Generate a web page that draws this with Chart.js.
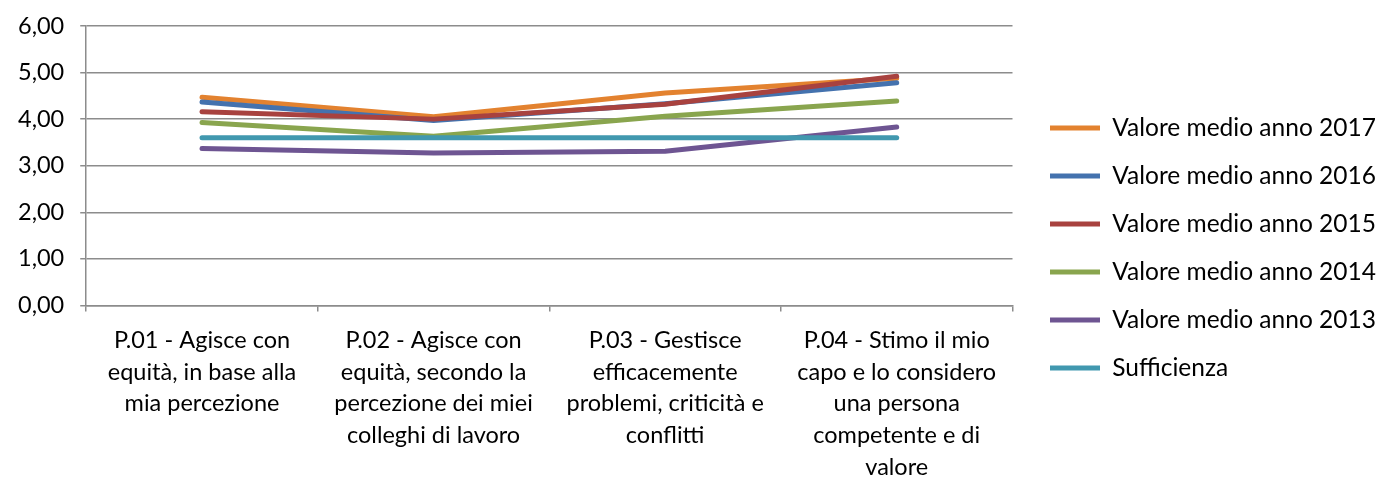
<!DOCTYPE html>
<html>
<head>
<meta charset="utf-8">
<script src="https://cdn.jsdelivr.net/npm/chart.js@4"></script>
<style>
  html, body { margin: 0; padding: 0; background: #fff; overflow: hidden; }
  /* a bit taller than the window: the last label line is cut at the bottom, like the original */
  #wrap { width: 1382px; height: 496px; position: relative; }
</style>
</head>
<body>
<div id="wrap"><canvas id="surveyChart"></canvas></div>
<script>
const categories = [
  ["P.01 - Agisce con", "equità, in base alla", "mia percezione"],
  ["P.02 - Agisce con", "equità, secondo la", "percezione dei miei", "colleghi di lavoro"],
  ["P.03 - Gestisce", "efficacemente", "problemi, criticità e", "conflitti"],
  ["P.04 - Stimo il mio", "capo e lo considero", "una persona", "competente e di", "valore"]
]

const anno2017 = [4.47, 4.05, 4.56, 4.88]
const anno2016 = [4.37, 3.97, 4.33, 4.78]
const anno2015 = [4.16, 4.00, 4.32, 4.92]
const anno2014 = [3.93, 3.63, 4.06, 4.39]
const anno2013 = [3.37, 3.27, 3.31, 3.83]
const sufficienza = [3.60, 3.60, 3.60, 3.60]

const seriesNames = [
  "Valore medio anno 2017",
  "Valore medio anno 2016",
  "Valore medio anno 2015",
  "Valore medio anno 2014",
  "Valore medio anno 2013",
  "Sufficienza"
]
const seriesData = [anno2017, anno2016, anno2015, anno2014, anno2013, sufficienza]
const seriesColors = ["#E3822F", "#4472AE", "#A8423F", "#89A54E", "#6E5592", "#4198AF"]

Chart.defaults.font.family = "Lato, 'Open Sans', sans-serif"
Chart.defaults.font.size = 23.5
Chart.defaults.color = "#000"

const datasets = seriesNames.map((name, i) => ({
  label: name,
  data: seriesData[i],
  borderColor: seriesColors[i],
  backgroundColor: seriesColors[i],
  borderWidth: 5,
  borderCapStyle: "round",
  borderJoinStyle: "round",
  pointRadius: 0,
  pointHoverRadius: 0,
  tension: 0,
  // later series sit on top, like the spreadsheet did it
  order: seriesNames.length - 1 - i
}))

// leave some white space between the plot and the legend
const legendGap = {
  id: "legendGap",
  beforeLayout(chart) {
    const legend = chart.legend
    if (legend && !legend._gapPatched) {
      const fit = legend.fit
      legend.fit = function () {
        fit.call(this)
        this.width += 23
      }
      legend._gapPatched = true
    }
  },
  afterLayout(chart) {
    if (chart.legend) chart.legend.left += 14
  }
}

const gridColor = "#8c8c8c"

new Chart(document.getElementById("surveyChart"), {
  type: "line",
  data: { labels: categories, datasets: datasets },
  plugins: [legendGap],
  options: {
    responsive: true,
    maintainAspectRatio: false,
    animation: false,
    layout: { padding: { top: 0, right: 2, left: 2, bottom: 0 } },
    scales: {
      x: {
        offset: true,
        grid: {
          offset: true,
          drawOnChartArea: false,
          drawTicks: true,
          tickLength: 6,
          color: gridColor,
          lineWidth: 1.5
        },
        border: { color: gridColor, width: 1.5 },
        ticks: {
          maxRotation: 0,
          autoSkip: false,
          padding: 13,
          font: { size: 23.5, lineHeight: 1.35 }
        }
      },
      y: {
        min: 0,
        max: 6,
        grid: { color: gridColor, lineWidth: 1.5, tickLength: 6 },
        border: { color: gridColor, width: 1.5 },
        ticks: {
          stepSize: 1,
          padding: 16,
          callback: v => v.toFixed(2).replace(".", ",")
        },
        // plot top sits 26px below the edge
        afterFit: scale => { scale.paddingTop = 26 }
      }
    },
    plugins: {
      legend: {
        position: "right",
        labels: {
          usePointStyle: true,
          pointStyle: "line",
          pointStyleWidth: 50,
          boxHeight: 24,
          padding: 23.5,
          color: "#000",
          font: { size: 24.5 },
          sort: (a, b) => a.datasetIndex - b.datasetIndex
        }
      },
      tooltip: { enabled: false }
    }
  }
})
</script>
</body>
</html>
